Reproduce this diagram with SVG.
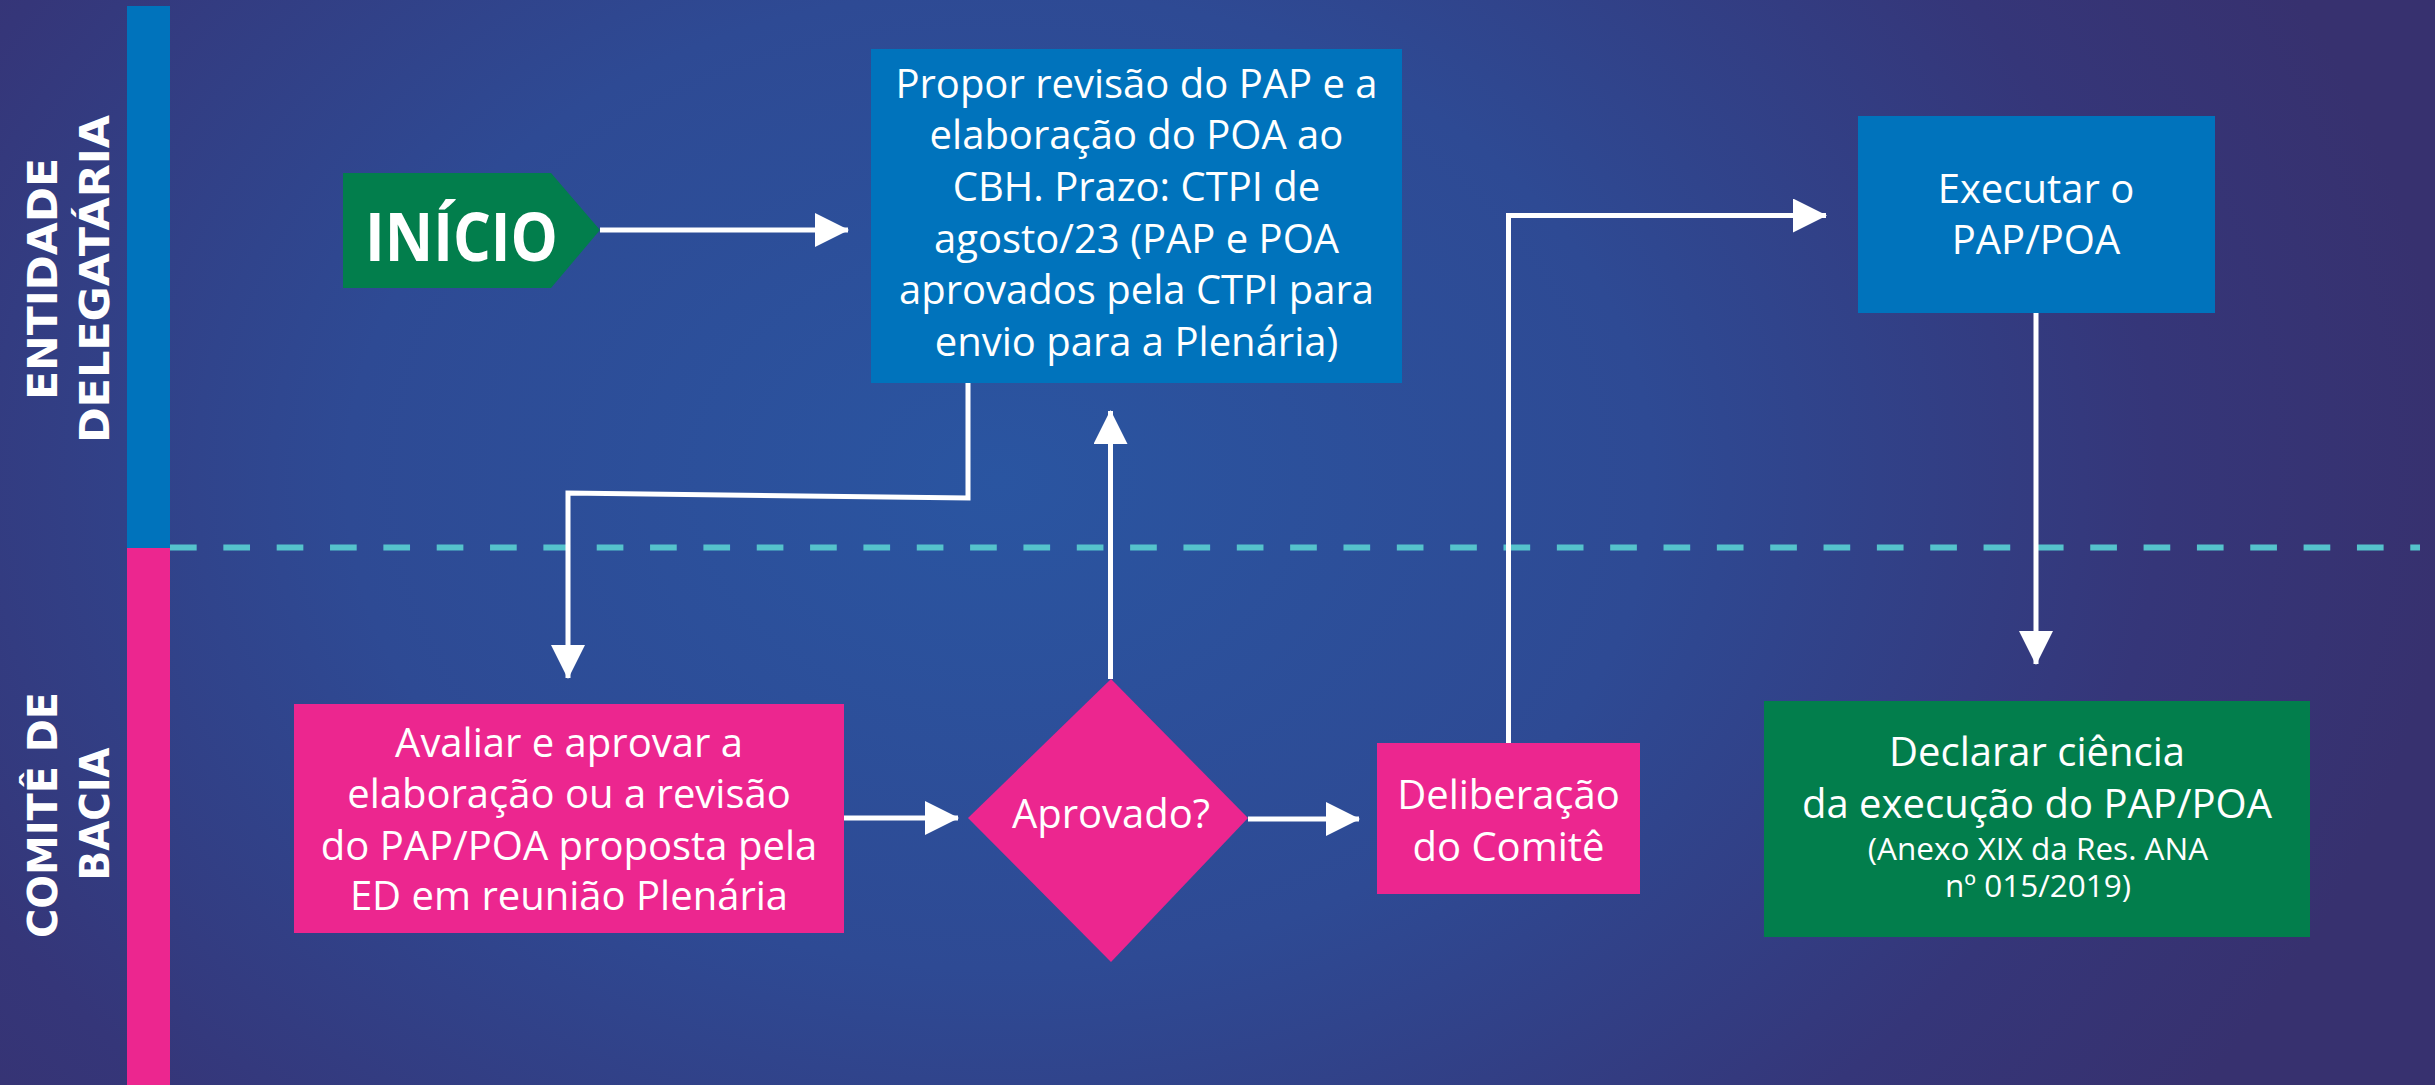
<svg xmlns="http://www.w3.org/2000/svg" width="2435" height="1085" viewBox="0 0 2435 1085">
  <defs>
    <radialGradient id="bg" gradientUnits="userSpaceOnUse" cx="1000" cy="480" r="1450" gradientTransform="translate(1000 480) scale(1 0.75) translate(-1000 -480)">
      <stop offset="0" stop-color="#2a55a1"/>
      <stop offset="0.45" stop-color="#2e4a94"/>
      <stop offset="0.8" stop-color="#353679"/>
      <stop offset="1" stop-color="#37316f"/>
    </radialGradient>
    <marker id="arrow" markerUnits="userSpaceOnUse" markerWidth="34" markerHeight="34" refX="33" refY="17" orient="auto" viewBox="0 0 34 34">
      <path d="M0,0 L34,17 L0,34 Z" fill="#ffffff"/>
    </marker>
    <style>
      .lane { font-family: "DejaVu Sans", "Liberation Sans", sans-serif; font-weight: bold; font-size: 41px; fill: #ffffff; }
      .txt { font-family: "Open Sans", "Liberation Sans", sans-serif; font-size: 40px; fill: #ffffff; text-anchor: middle; }
      .small { font-size: 31.5px; }
      .conn { fill: none; stroke: #ffffff; stroke-width: 5; }
      .blue { fill: #0073bc; }
      .pink { fill: #ec268f; }
      .green { fill: #027e4c; }
    </style>
  </defs>

  <rect x="0" y="0" width="2435" height="1085" fill="url(#bg)"/>

  <g id="lanes">
    <rect x="127" y="6" width="43" height="542" fill="#0073bc"/>
    <rect x="127" y="548" width="43" height="537" fill="#ec268f"/>
    <line x1="170" y1="547.5" x2="2420" y2="547.5" stroke="#55c3cc" stroke-width="6" stroke-dasharray="26.67 26.67"/>
    <text class="lane" transform="translate(57 279) rotate(-90)" text-anchor="middle" textLength="242" lengthAdjust="spacingAndGlyphs">ENTIDADE</text>
    <text class="lane" transform="translate(109 279) rotate(-90)" text-anchor="middle" textLength="328" lengthAdjust="spacingAndGlyphs">DELEGATÁRIA</text>
    <text class="lane" transform="translate(57 815) rotate(-90)" text-anchor="middle" textLength="246" lengthAdjust="spacingAndGlyphs">COMITÊ DE</text>
    <text class="lane" transform="translate(109 814) rotate(-90)" text-anchor="middle" textLength="133" lengthAdjust="spacingAndGlyphs">BACIA</text>
  </g>

  <g id="connectors">
    <path class="conn" d="M600,230 H848" marker-end="url(#arrow)"/>
    <path class="conn" d="M968,383 V498 L568,493 V678" marker-end="url(#arrow)"/>
    <path class="conn" d="M844,818 H958" marker-end="url(#arrow)"/>
    <path class="conn" d="M1110.5,679 V411" marker-end="url(#arrow)"/>
    <path class="conn" d="M1248,819 H1359" marker-end="url(#arrow)"/>
    <path class="conn" d="M1508.5,743 V215.5 H1826" marker-end="url(#arrow)"/>
    <path class="conn" d="M2036,313 V664" marker-end="url(#arrow)"/>
  </g>

  <g id="inicio">
    <polygon class="green" points="343,173 551,173 600,230 551,288 343,288"/>
    <text x="365" y="261" font-family="'Open Sans', 'Liberation Sans', sans-serif" font-weight="bold" font-size="66" fill="#ffffff" textLength="193" lengthAdjust="spacingAndGlyphs">INÍCIO</text>
  </g>

  <g id="propor">
    <rect class="blue" x="871" y="49" width="531" height="334"/>
    <text class="txt" x="1136.5" y="98">Propor revisão do PAP e a</text>
    <text class="txt" x="1136.5" y="149">elaboração do POA ao</text>
    <text class="txt" x="1136.5" y="201">CBH. Prazo: CTPI de</text>
    <text class="txt" x="1136.5" y="253">agosto/23 (PAP e POA</text>
    <text class="txt" x="1136.5" y="304">aprovados pela CTPI para</text>
    <text class="txt" x="1136.5" y="356">envio para a Plenária)</text>
  </g>

  <g id="executar">
    <rect class="blue" x="1858" y="116" width="357" height="197"/>
    <text class="txt" x="2036" y="203">Executar o</text>
    <text class="txt" x="2036" y="254">PAP/POA</text>
  </g>

  <g id="avaliar">
    <rect class="pink" x="294" y="704" width="550" height="229"/>
    <text class="txt" x="569" y="757" font-size="41">Avaliar e aprovar a</text>
    <text class="txt" x="569" y="808" font-size="41">elaboração ou a revisão</text>
    <text class="txt" x="569" y="860" font-size="41">do PAP/POA proposta pela</text>
    <text class="txt" x="569" y="910" font-size="41">ED em reunião Plenária</text>
  </g>

  <g id="aprovado">
    <polygon class="pink" points="1111,679 1248,818 1111,962 968,818"/>
    <text class="txt" x="1111" y="828">Aprovado?</text>
  </g>

  <g id="deliberacao">
    <rect class="pink" x="1377" y="743" width="263" height="151"/>
    <text class="txt" x="1508.5" y="809">Deliberação</text>
    <text class="txt" x="1508.5" y="861">do Comitê</text>
  </g>

  <g id="declarar">
    <rect class="green" x="1764" y="701" width="546" height="236"/>
    <text class="txt" x="2037" y="766" font-size="41">Declarar ciência</text>
    <text class="txt" x="2037" y="818" font-size="41">da execução do PAP/POA</text>
    <text class="txt small" x="2038" y="860">(Anexo XIX da Res. ANA</text>
    <text class="txt small" x="2038" y="897">nº 015/2019)</text>
  </g>
</svg>
